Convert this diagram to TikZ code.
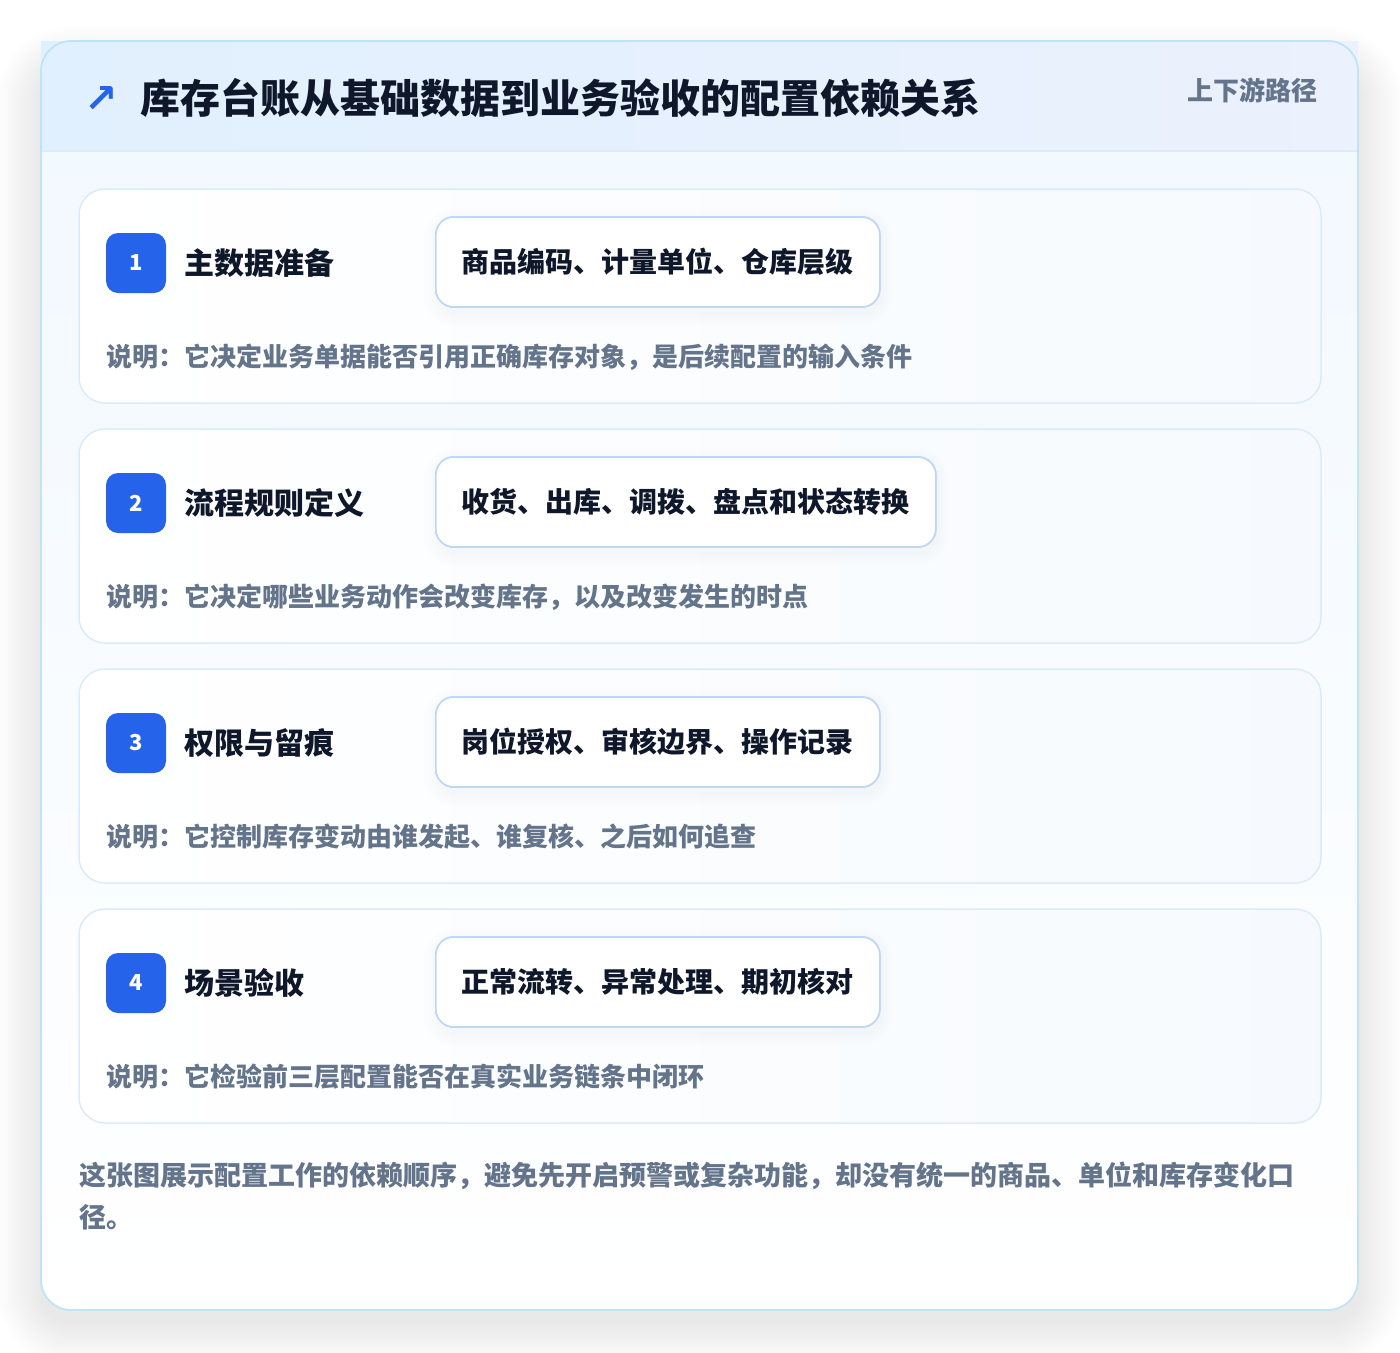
\documentclass[tikz,border=0pt]{standalone}
\usepackage{fontspec}
\setmainfont{Noto Sans CJK SC}
\newfontfamily\symfont{DejaVu Sans}
\usetikzlibrary{positioning}

\definecolor{accent}{HTML}{2563EB}
\definecolor{ink}{HTML}{0F172A}
\definecolor{muted}{HTML}{64748B}
\definecolor{cardline}{HTML}{BFE3F7}
\definecolor{stepline}{HTML}{DCEAFB}
\definecolor{tagline}{HTML}{BFD6F6}
\definecolor{headL}{HTML}{E1F0FE}
\definecolor{headR}{HTML}{EBF1FD}
\definecolor{cardtop}{HTML}{F1F8FF}
\definecolor{stepR}{HTML}{F6FAFE}

\tikzset{
  badge/.style={rectangle, rounded corners=12pt, fill=accent, text=white,
    minimum size=60pt, inner sep=0pt, font=\fontsize{22}{26}\selectfont\bfseries},
  steptitle/.style={anchor=west, inner sep=0pt, text=ink,
    font=\fontsize{30}{36}\selectfont\bfseries},
  tagbox/.style={anchor=west, rectangle, rounded corners=18pt, draw=tagline,
    line width=1.6pt, fill=white, text=ink, minimum height=90pt, inner xsep=26pt,
    font=\fontsize{28}{34}\selectfont\bfseries},
  desc/.style={anchor=west, inner sep=0pt, text=muted,
    font=\fontsize{26}{32}\selectfont\bfseries},
}

\begin{document}
\begin{tikzpicture}[x=1pt, y=-1pt]

  % Fondo
  \useasboundingbox (0,0) rectangle (1400,1352);
  \fill[white] (0,0) rectangle (1400,1352);

  % Ombra della scheda
  \foreach \s in {2,4,...,44}
    \fill[black, opacity=0.0035, rounded corners=30pt+\s pt]
      (41-\s, 70-\s) rectangle (1358+\s, 1322+\s);

  % Scheda
  \shade[top color=cardtop, bottom color=white, rounded corners=30pt]
    (41,41) rectangle (1358,1310);
  \begin{scope}
    \clip[rounded corners=30pt] (41,41) -- (41,400) -- (1398,400) [sharp corners] -- (1398,41) -- cycle;
    \shade[left color=headL, right color=headR] (41,41) rectangle (1358,151);
  \end{scope}
  \draw[stepline, line width=1.5pt] (41,151) -- (1358,151);
  \draw[cardline, line width=1.8pt, rounded corners=30pt] (41,41) rectangle (1358,1310);

  % Intestazione
  \node[anchor=west, inner sep=0pt, text=accent, font=\symfont\fontsize{40}{46}\selectfont\bfseries]
    (icon) at (84,99) {↗};
  \node[anchor=west, inner sep=0pt, text=ink, font=\fontsize{40}{48}\selectfont\bfseries]
    (title) at (140,98) {库存台账从基础数据到业务验收的配置依赖关系};
  \node[anchor=east, inner sep=0pt, text=muted, font=\fontsize{26}{32}\selectfont\bfseries]
    (route) at (1318,90) {上下游路径};

  % Passi
  \foreach \n/\name/\tags/\note in {
    1/主数据准备/商品编码、计量单位、仓库层级/说明：它决定业务单据能否引用正确库存对象，是后续配置的输入条件,
    2/流程规则定义/收货、出库、调拨、盘点和状态转换/说明：它决定哪些业务动作会改变库存，以及改变发生的时点,
    3/权限与留痕/岗位授权、审核边界、操作记录/说明：它控制库存变动由谁发起、谁复核、之后如何追查,
    4/场景验收/正常流转、异常处理、期初核对/说明：它检验前三层配置能否在真实业务链条中闭环} {
    \pgfmathsetmacro{\top}{189+(\n-1)*240}
    \shade[left color=white, right color=stepR, rounded corners=26pt]
      (79,\top) rectangle (1321,\top+214);
    \draw[stepline, line width=1.5pt, rounded corners=26pt]
      (79,\top) rectangle (1321,\top+214);
    \node[badge] (b\n) at (136,\top+74) {\n};
    \node[steptitle] (t\n) at (184,\top+74) {\name};
    \node[tagbox] (g\n) at (435,\top+73) {\tags};
    % ombra del riquadro
    \foreach \s in {2,4,...,12}
      \fill[black, opacity=0.004, rounded corners=18pt+\s pt]
        ([xshift=-\s pt, yshift=-4pt+\s pt]g\n.north west) rectangle
        ([xshift=\s pt, yshift=-6pt-\s pt]g\n.south east);
    \node[tagbox] at (435,\top+73) {\tags};
    \node[desc] (d\n) at (106,\top+168) {\note};
  }

  % Nota finale
  \node[anchor=west, align=left, inner sep=0pt, text=muted,
    font=\fontsize{27}{42}\selectfont\bfseries] (foot) at (79,1196)
    {这张图展示配置工作的依赖顺序，避免先开启预警或复杂功能，却没有统一的商品、单位和库存变化口\\径。};

\end{tikzpicture}
\end{document}
